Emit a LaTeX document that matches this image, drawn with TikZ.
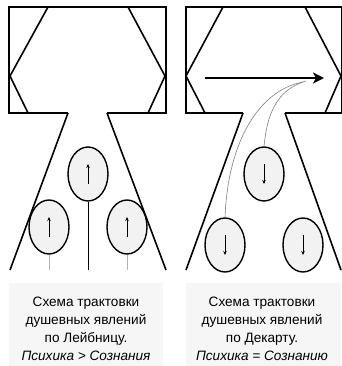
\documentclass[tikz,border=0pt]{standalone}
\usepackage{fontspec}
\setmainfont{Liberation Sans}
\usetikzlibrary{shapes.geometric}
\usetikzlibrary{arrows.meta}
\definecolor{soulgray}{gray}{0.95}
\definecolor{captiongray}{gray}{0.965}
\tikzset{
  boxline/.style = {line width = 1.6pt, line join = miter},
  soul/.style = {draw, ellipse, line width = 1.4pt, fill = soulgray, minimum width = 40pt, minimum height = 54pt, inner sep = 0pt},
  soularrow/.style = {line width = 1pt, -{Stealth[length = 4pt, width = 3.5pt]}},
  caption/.style = {align = center, font = \fontsize{13.6}{18}\selectfont}
}

\begin{document}
\begin{tikzpicture}[x = 1pt, y = -1pt]
\useasboundingbox (0,0) rectangle (341,366);
% Leibniz
\begin{scope}
\fill[captiongray] (9,283) rectangle (163,366);
\draw[boxline] (68,113) -- (9,113) -- (9,7) -- (166,7) -- (166,113) -- (107,113);
\draw[boxline, line width = 2.6pt] (9,7) -- (9,113);
\draw[boxline] (48,7) -- (10,76) -- (28,113);
\draw[boxline] (128,7) -- (165,76) -- (148,113);
\draw[boxline] (68,113) -- (10,270);
\draw[boxline] (107,113) -- (166,270);
\node[soul] (Ltop) at (88,174) {};
\node[soul] (Lleft) at (49,227) {};
\node[soul] (Lright) at (127,227) {};
\foreach \s in {Ltop,Lleft,Lright} {
  \draw[soularrow] ([yshift = -10pt]\s.center) -- ([yshift = 10pt]\s.center);
}
\coordinate (Ltopend) at (88,270);
\coordinate (Lleftend) at (49,270);
\coordinate (Lrightend) at (127,270);
\draw[line width = 0.8pt] (Ltop.south) -- (Ltopend);
\draw[gray!60, line width = 0.8pt] (Lleft.south) -- (Lleftend);
\draw[gray!60, line width = 0.8pt] (Lright.south) -- (Lrightend);
\node[caption] (Lcap) at (86,329) {Схема трактовки\\душевных явлений\\по Лейбницу.\\\textit{Психика > Сознания}};
\end{scope}

% Descartes
\begin{scope}[shift = {(176,0)}]
\fill[captiongray] (10,283) rectangle (165,366);
\draw[boxline] (67,113) -- (10,113) -- (10,7) -- (166,7) -- (166,113) -- (109,113);
\draw[boxline] (47,7) -- (10,76) -- (29,113);
\draw[boxline] (129,7) -- (165,76) -- (149,113);
\draw[boxline] (67,113) -- (10,270);
\draw[boxline] (109,113) -- (165,270);
\coordinate (Dstart) at (29,78);
\coordinate (Dend) at (148,78);
\draw[line width = 2.4pt, -{Stealth[length = 11pt, width = 11pt, inset = 3pt]}] (Dstart) -- (Dend);
\node[soul] (Dtop) at (88,174) {};
\node[soul] (Dleft) at (49,245) {};
\node[soul] (Dright) at (127,245) {};
\foreach \s in {Dtop,Dleft,Dright} {
  \draw[soularrow] ([yshift = 10pt]\s.center) -- ([yshift = -10pt]\s.center);
}
\coordinate (Dfromtop) at (130,81);
\coordinate (Dfromleft) at (127,82);
\draw[gray, line width = 0.6pt] (Dfromtop) .. controls (100,90) and (91,115) .. (Dtop.north);
\draw[gray, line width = 0.6pt] (Dfromleft) .. controls (84,90) and (52,140) .. (Dleft.north);
\node[caption] (Dcap) at (86,329) {Схема трактовки\\душевных явлений\\по Декарту.\\\textit{Психика = Сознанию}};
\end{scope}
\end{tikzpicture}
\end{document}
